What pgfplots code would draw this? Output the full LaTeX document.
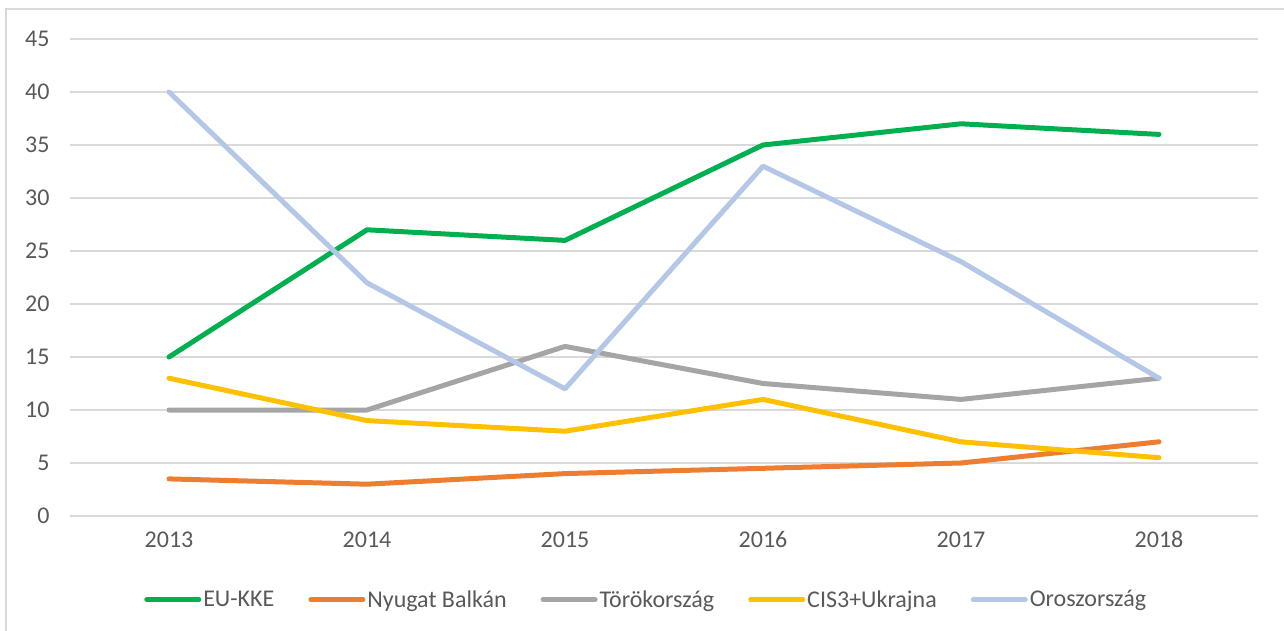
\documentclass[border=0pt]{standalone}
\usepackage{fontspec}
\setmainfont{Carlito}
\usepackage{pgfplots}
\pgfplotsset{compat=1.18}
\definecolor{cgreen}{HTML}{00B050}
\definecolor{corange}{HTML}{ED7D31}
\definecolor{cgray}{HTML}{A5A5A5}
\definecolor{cyellow}{HTML}{FFC000}
\definecolor{cblue}{HTML}{B4C7E7}
\definecolor{ctext}{HTML}{595959}
\definecolor{cgrid}{HTML}{D9D9D9}
\begin{document}
\begin{tikzpicture}
\useasboundingbox (0,0) rectangle (1284pt,-631pt);
\draw[cgrid, line width=1.5pt] (6pt,-9pt) rectangle (1300pt,-650pt);
\begin{axis}[
  at={(70pt,-516pt)}, anchor=south west,
  scale only axis, width=1188pt, height=477pt,
  xmin=-0.5, xmax=5.5, ymin=0, ymax=45,
  xtick={0,...,5}, xticklabels={2013,2014,2015,2016,2017,2018},
  ytick={0,5,...,45},
  axis line style={draw=none},
  major tick length=0pt,
  ymajorgrids, grid style={cgrid, line width=1.5pt},
  xmajorgrids=false,
  tick label style={font=\fontsize{24}{28}\selectfont, text=ctext},
  /pgf/number format/assume math mode=true,
  yticklabel style={xshift=-17pt},
  xticklabel style={yshift=-12pt},
  legend columns=5,
  legend style={at={(0.485,-0.175)}, anchor=center, draw=none, fill=none,
    font=\fontsize{24}{28}\selectfont, text=ctext,
    /tikz/every odd column/.append style={column sep=0pt},
    /tikz/every even column/.append style={column sep=32pt},
    nodes={inner xsep=2pt}},
  legend image code/.code={\draw[#1, line cap=round] (0pt,0pt) -- (52pt,0pt);},
  every axis plot/.append style={line width=5pt, line join=round, line cap=round},
]
\addplot[cgreen] coordinates {(0,15) (1,27) (2,26) (3,35) (4,37) (5,36)};
\addlegendentry{EU-KKE}
\addplot[corange] coordinates {(0,3.5) (1,3) (2,4) (3,4.5) (4,5) (5,7)};
\addlegendentry{Nyugat Balkán}
\addplot[cgray] coordinates {(0,10) (1,10) (2,16) (3,12.5) (4,11) (5,13)};
\addlegendentry{Törökország}
\addplot[cyellow] coordinates {(0,13) (1,9) (2,8) (3,11) (4,7) (5,5.5)};
\addlegendentry{CIS3+Ukrajna}
\addplot[cblue] coordinates {(0,40) (1,22) (2,12) (3,33) (4,24) (5,13)};
\addlegendentry{Oroszország}
\end{axis}
\end{tikzpicture}
\end{document}
